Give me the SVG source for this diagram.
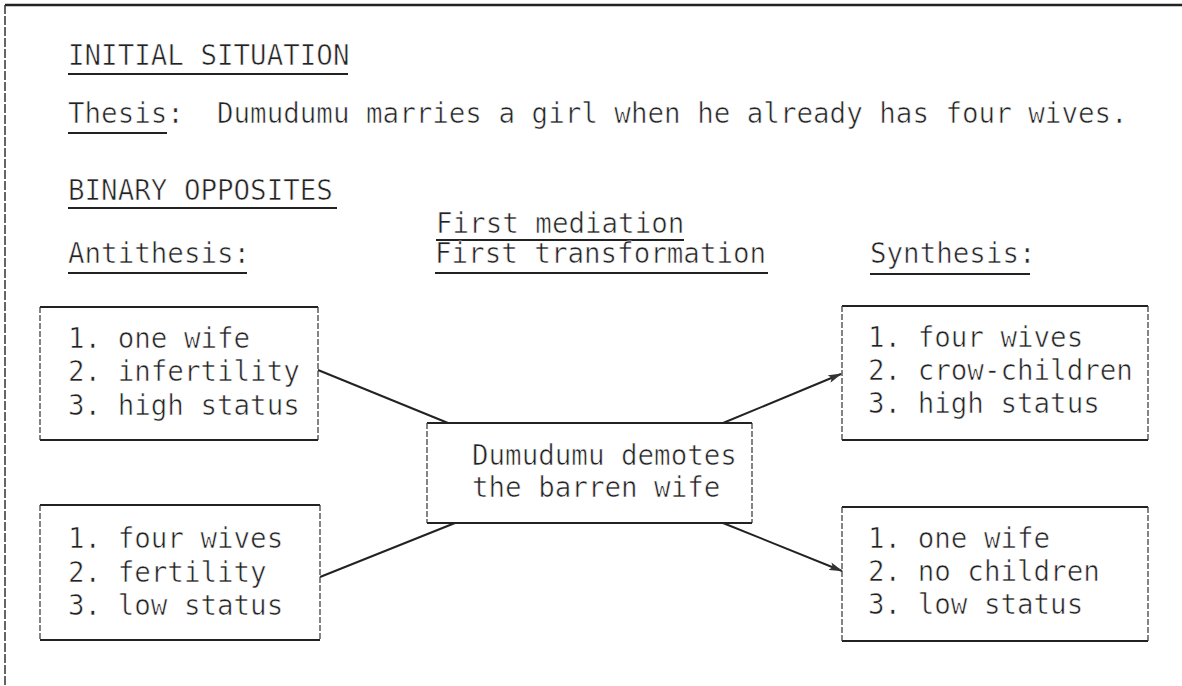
<svg xmlns="http://www.w3.org/2000/svg" width="1182" height="686" viewBox="0 0 1182 686">
  <defs>
    <style>
      .t { font-family: "DejaVu Sans Mono", "Liberation Mono", monospace; font-size: 27.5px; fill: #222; stroke: #fff; stroke-width: 0.6px; }
      .ul { stroke: #222; stroke-width: 2; fill: none; }
      .edge-h { stroke: #222; stroke-width: 2.2; fill: none; }
      .edge-v { stroke: #333; stroke-width: 1.2; stroke-dasharray: 6 2; fill: none; }
      .frame-h { stroke: #222; stroke-width: 2.5; fill: none; }
      .frame-v { stroke: #333; stroke-width: 1.5; stroke-dasharray: 9 2; fill: none; }
      .link { stroke: #222; stroke-width: 2; fill: none; }
    </style>
    <marker id="arrow" viewBox="0 0 14 8" refX="13" refY="4" markerWidth="14" markerHeight="8" markerUnits="userSpaceOnUse" orient="auto">
      <path d="M0,0 L14,4 L0,8 L3,4 z" fill="#333"/>
    </marker>
  </defs>

  <rect width="1182" height="686" fill="#ffffff"/>

  <!-- page frame: top rule and left rule -->
  <g id="frame">
    <line class="frame-h" x1="5" y1="5" x2="1182" y2="5"/>
    <line class="frame-v" x1="5" y1="5" x2="5" y2="686"/>
  </g>

  <!-- headings -->
  <g id="headings">
    <text class="t" x="68" y="65">INITIAL SITUATION</text>
    <line class="ul" x1="68" y1="74" x2="348" y2="74"/>

    <text class="t" x="68" y="123" xml:space="preserve">Thesis:  Dumudumu marries a girl when he already has four wives.</text>
    <line class="ul" x1="68" y1="133" x2="167" y2="133"/>

    <text class="t" x="68" y="200">BINARY OPPOSITES</text>
    <line class="ul" x1="68" y1="208" x2="337" y2="208"/>

    <text class="t" x="436" y="233">First mediation</text>
    <line class="ul" x1="436" y1="240" x2="684" y2="240"/>

    <text class="t" x="68" y="263">Antithesis:</text>
    <line class="ul" x1="68" y1="273" x2="247" y2="273"/>

    <text class="t" x="435" y="263">First transformation</text>
    <line class="ul" x1="435" y1="273" x2="768" y2="273"/>

    <text class="t" x="870" y="263">Synthesis:</text>
    <line class="ul" x1="870" y1="274" x2="1030" y2="274"/>
  </g>

  <!-- connectors -->
  <g id="connectors">
    <line class="link" x1="318" y1="370" x2="448" y2="423"/>
    <line class="link" x1="320" y1="577" x2="455" y2="523"/>
    <line class="link" x1="723" y1="423" x2="841" y2="374" marker-end="url(#arrow)"/>
    <line class="link" x1="723" y1="523" x2="842" y2="571" marker-end="url(#arrow)"/>
  </g>

  <!-- antithesis, upper -->
  <g id="antithesis-1">
    <path class="edge-h" d="M40,307 H318 M40,440 H318"/>
    <path class="edge-v" d="M40,307 V440 M318,307 V440"/>
    <text class="t" x="68" y="348">1. one wife</text>
    <text class="t" x="68" y="381">2. infertility</text>
    <text class="t" x="68" y="415">3. high status</text>
  </g>

  <!-- antithesis, lower -->
  <g id="antithesis-2">
    <path class="edge-h" d="M40,505 H320 M40,640 H320"/>
    <path class="edge-v" d="M40,505 V640 M320,505 V640"/>
    <text class="t" x="68" y="548">1. four wives</text>
    <text class="t" x="68" y="582">2. fertility</text>
    <text class="t" x="68" y="615">3. low status</text>
  </g>

  <!-- mediation -->
  <g id="mediation">
    <path class="edge-h" d="M427,423 H752 M427,523 H752"/>
    <path class="edge-v" d="M427,423 V523 M752,423 V523"/>
    <text class="t" x="472" y="465">Dumudumu demotes</text>
    <text class="t" x="472" y="497">the barren wife</text>
  </g>

  <!-- synthesis, upper -->
  <g id="synthesis-1">
    <path class="edge-h" d="M842,306 H1148 M842,440 H1148"/>
    <path class="edge-v" d="M842,306 V440 M1148,306 V440"/>
    <text class="t" x="868" y="347">1. four wives</text>
    <text class="t" x="868" y="380">2. crow-children</text>
    <text class="t" x="868" y="413">3. high status</text>
  </g>

  <!-- synthesis, lower -->
  <g id="synthesis-2">
    <path class="edge-h" d="M842,507 H1148 M842,641 H1148"/>
    <path class="edge-v" d="M842,507 V641 M1148,507 V641"/>
    <text class="t" x="868" y="548">1. one wife</text>
    <text class="t" x="868" y="581">2. no children</text>
    <text class="t" x="868" y="614">3. low status</text>
  </g>
</svg>
